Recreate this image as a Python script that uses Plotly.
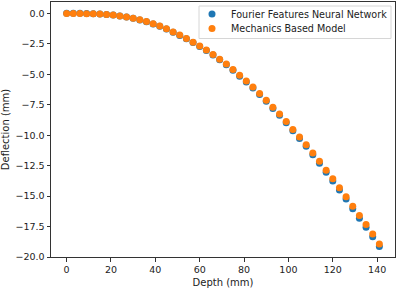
import plotly.graph_objects as go

depth = [i * 3 for i in range(48)]

mechanics = [0.00, 0.00, 0.00, -0.01, -0.02, -0.04, -0.07, -0.12, -0.19, -0.28,
             -0.38, -0.51, -0.66, -0.84, -1.03, -1.25, -1.52, -1.77, -2.04, -2.35,
             -2.67, -3.00, -3.36, -3.75, -4.15, -4.60, -5.07, -5.55, -6.04, -6.56,
             -7.12, -7.70, -8.25, -8.87, -9.52, -10.14, -10.77, -11.46, -12.14, -12.87,
             -13.58, -14.32, -15.05, -15.84, -16.60, -17.34, -18.12, -18.94]

fourier = [0.02, 0.03, 0.02, 0.00, -0.02, -0.04, -0.07, -0.12, -0.19, -0.28,
           -0.39, -0.52, -0.67, -0.85, -1.05, -1.27, -1.54, -1.80, -2.07, -2.38,
           -2.71, -3.04, -3.41, -3.80, -4.21, -4.66, -5.14, -5.62, -6.12, -6.65,
           -7.21, -7.80, -8.35, -8.98, -9.63, -10.26, -10.90, -11.60, -12.29, -13.03,
           -13.75, -14.50, -15.24, -16.04, -16.81, -17.56, -18.34, -19.14]

series_names = ["Fourier Features Neural Network", "Mechanics Based Model"]
series_colors = ["#1f77b4", "#ff7f0e"]

W, H = 397, 289
ML, MR, MT, MB = 51, 2, 2, 32
PW, PH = W - ML - MR, H - MT - MB


def px(xp):
    return (xp - ML) / PW


def py(yp):
    return (H - MB - yp) / PH


fig = go.Figure()
for name, vals, col in zip(series_names, [fourier, mechanics], series_colors):
    fig.add_trace(go.Scatter(x=depth, y=vals, mode="markers", name=name,
                             marker=dict(color=col, size=7, line=dict(width=0)),
                             showlegend=False))

axis_common = dict(showgrid=False, zeroline=False, showline=True, linecolor="#333",
                   linewidth=1, mirror=True, ticks="outside", ticklen=3.5,
                   tickcolor="#333", tickfont=dict(family="DejaVu Sans", size=9.5, color="#222"))

# legend drawn as box + circles + text
shapes = [dict(type="rect", xref="paper", yref="paper",
               x0=px(199), x1=px(391), y0=py(38.5), y1=py(6),
               line=dict(color="#d6d6d6", width=1), fillcolor="rgba(255,255,255,0.8)",
               layer="above")]
annotations = []
for i, (name, col) in enumerate(zip(series_names, series_colors)):
    yc = 14 + i * 14.5
    shapes.append(dict(type="circle", xref="paper", yref="paper",
                       xsizemode="pixel", ysizemode="pixel",
                       xanchor=px(212), yanchor=py(yc),
                       x0=-3.5, x1=3.5, y0=-3.5, y1=3.5,
                       fillcolor=col, line=dict(width=0), layer="above"))
    annotations.append(dict(xref="paper", yref="paper", x=px(229), y=py(yc),
                            xanchor="left", yanchor="middle", showarrow=False,
                            text=name, font=dict(family="DejaVu Sans", size=9.6, color="#222")))

fig.update_layout(
    width=W, height=H,
    margin=dict(l=ML, r=MR, t=MT, b=MB),
    plot_bgcolor="white", paper_bgcolor="white",
    font=dict(family="DejaVu Sans", size=10, color="#222"),
    xaxis=dict(range=[-7.05, 148.05], tickvals=[0, 20, 40, 60, 80, 100, 120, 140],
               title=dict(text="Depth (mm)", standoff=5, font=dict(size=10)), **axis_common),
    yaxis=dict(range=[-20.0, 0.95], tickvals=[0, -2.5, -5, -7.5, -10, -12.5, -15, -17.5, -20],
               tickformat=".1f",
               title=dict(text="Deflection (mm)", standoff=6, font=dict(size=10)), **axis_common),
    shapes=shapes,
    annotations=annotations,
    showlegend=False,
)

fig.write_html("out.html")
